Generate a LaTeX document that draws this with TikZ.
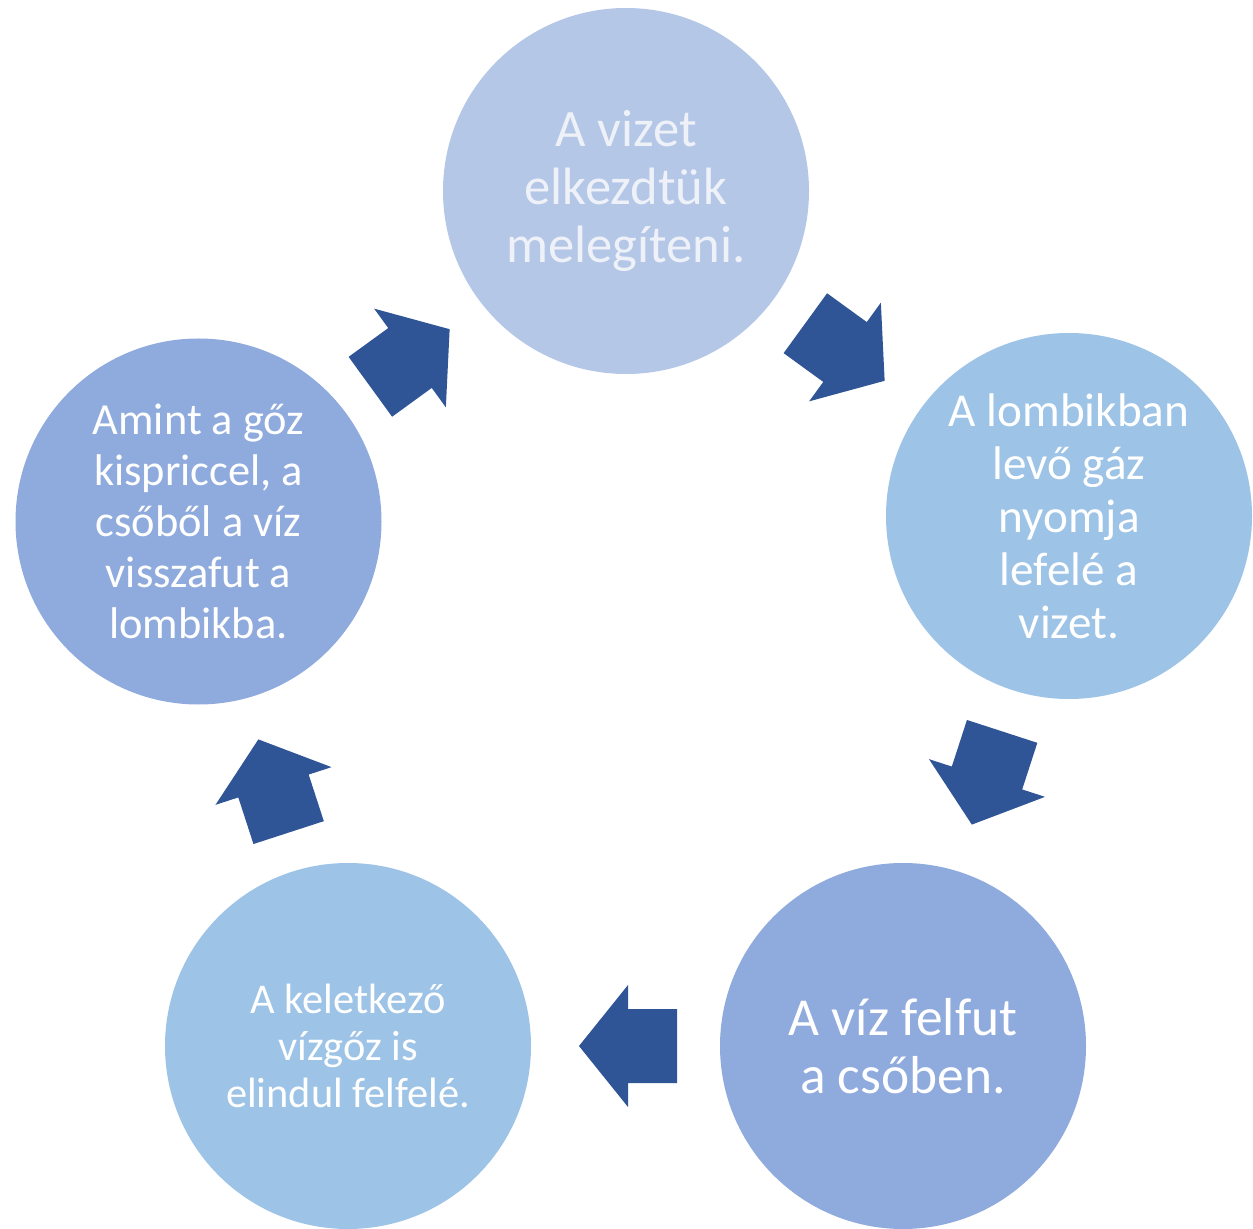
\documentclass[tikz,border=0pt]{standalone}
\usepackage{fontspec}
\setmainfont{Carlito}
\definecolor{cA}{HTML}{B4C7E7}
\definecolor{cB}{HTML}{9DC3E6}
\definecolor{cC}{HTML}{8FAADC}
\definecolor{arr}{HTML}{2F5597}
\definecolor{txtA}{HTML}{EEF1F8}
\newcommand\blockarrow[3]{%
  \fill[arr, shift={(#1,#2)}, rotate=#3]
    (49,0) -- (0,61) -- (0,37) -- (-49,37) -- (-49,-37) -- (0,-37) -- (0,-61) -- cycle;}
\begin{document}
\begin{tikzpicture}[x=0.5pt,y=-0.5pt,
  bub/.style={circle, minimum size=183pt, inner sep=0pt, draw=none},
  txt/.style={align=center, text=white, inner sep=0pt}]
\useasboundingbox (0,0) rectangle (1253,1229);
% circles
\node[bub, fill=cA] (c1) at (626,191) {};
\node[bub, fill=cB] (c2) at (1069,516) {};
\node[bub, fill=cC] (c3) at (903,1046) {};
\node[bub, fill=cB] (c4) at (348,1046) {};
\node[bub, fill=cC] (c5) at (198.5,521.5) {};
% texts
\node[txt, text=txtA, font=\fontsize{26.3}{29}\selectfont] (t1) at (c1) {A vizet\\elkezdtük\\melegíteni.};
\node[txt, font=\fontsize{23.6}{26.5}\selectfont] (t2) at (c2) {A lombikban\\levő gáz\\nyomja\\lefelé a\\vizet.};
\node[txt, font=\fontsize{26.7}{29}\selectfont] (t3) at (c3) {A víz felfut\\a csőben.};
\node[txt, font=\fontsize{21.2}{23.5}\selectfont] (t4) at (c4) {A keletkező\\vízgőz is\\elindul felfelé.};
\node[txt, font=\fontsize{22.2}{25.5}\selectfont] (t5) at (c5) {Amint a gőz\\kispriccel, a\\csőből a víz\\visszafut a\\lombikba.};
% block arrows
\blockarrow{845}{352}{-36}
\blockarrow{987}{778}{-108}
\blockarrow{628}{1046}{180}
\blockarrow{273.5}{786}{108}
\blockarrow{410}{358}{36}
\end{tikzpicture}
\end{document}
